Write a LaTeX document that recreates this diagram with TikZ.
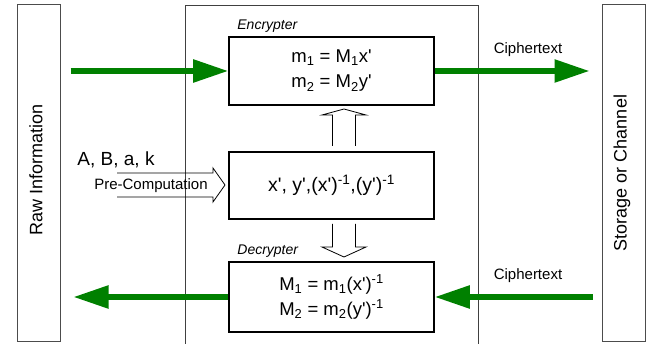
\documentclass[tikz,border=0pt]{standalone}
\usepackage{fontspec}
\setmainfont{Liberation Sans}
\usepackage{xcolor}
\usetikzlibrary{arrows.meta,positioning}

\definecolor{flowgreen}{RGB}{0,128,0}
\newcommand{\prm}{\textquotesingle}

\begin{document}
\begin{tikzpicture}[
    x=1pt, y=-1pt,
    sidebox/.style={rectangle, draw=black!70, line width=1pt, minimum width=43pt, minimum height=337pt, inner sep=0pt},
    calcbox/.style={rectangle, draw, line width=1.6pt, minimum width=205pt, align=center, font=\fontsize{18.5}{25}\selectfont},
    tagtext/.style={font=\fontsize{14}{16}\selectfont\itshape, inner sep=0pt},
    arrowtext/.style={font=\fontsize{15}{16}\selectfont, inner sep=0pt},
    flow/.style={draw=flowgreen, line width=5.5pt, -{Triangle[length=35pt,width=22pt]}, flowgreen},
    hollow/.style={draw, line width=0.8pt, line join=miter}
]
\useasboundingbox (0,0) rectangle (653,344);

% frame of the processing unit, open at the bottom
\draw[black!75, line width=0.8pt] (185,344) -- (185,5) -- (478,5) -- (478,344);

\node[sidebox] (raw) at (38.5,173.5) {};
\node[rotate=90, font=\fontsize{18}{20}\selectfont] at (36,170) {Raw Information};
\node[sidebox] (store) at (623.5,173.5) {};
\node[rotate=90, font=\fontsize{18}{20}\selectfont] at (622,173) {Storage or Channel};

\node[calcbox, minimum height=68pt] (enc) at (331.5,71) {m\textsubscript{1} = M\textsubscript{1}x\prm\\m\textsubscript{2} = M\textsubscript{2}y\prm};
\node[calcbox, minimum height=67pt, font=\fontsize{19.5}{25}\selectfont] (pre) at (331.5,185.5) {x\prm, y\prm,(x\prm)\textsuperscript{-1},(y\prm)\textsuperscript{-1}};
\node[calcbox, minimum height=70pt] (dec) at (331.5,297) {M\textsubscript{1} = m\textsubscript{1}(x\prm)\textsuperscript{-1}\\M\textsubscript{2} = m\textsubscript{2}(y\prm)\textsuperscript{-1}};

\node[tagtext, anchor=south west] (enctag) at ([xshift=9pt,yshift=4pt]enc.north west) {Encrypter};
\node[tagtext, anchor=south west] (dectag) at ([xshift=9pt,yshift=4pt]dec.north west) {Decrypter};

% green data flow
\draw[flow, shorten <=10pt] (raw.east |- enc.west) -- (enc.west);
\draw[flow, shorten >=12pt] (enc.east) -- (store.west |- enc.east);
\draw[flow, shorten <=9pt] (store.west |- dec.east) -- (dec.east);
\draw[flow, shorten >=13pt] (dec.west) -- (raw.east |- dec.west);

\node[arrowtext] (ctup) at (528,50) {Ciphertext};
\node[arrowtext] (ctdown) at (528,276) {Ciphertext};

% hollow arrows
\draw[hollow] (332.5,146) -- (332.5,115) -- (322,115) -- (344,109) -- (366,115) -- (355.5,115) -- (355.5,146);
\draw[hollow] (332.5,224) -- (332.5,247) -- (322,247) -- (344,257) -- (366,247) -- (355.5,247) -- (355.5,224);
\draw[hollow] (117,173) -- (213,173) -- (213,168) -- (225,185) -- (213,202) -- (213,197) -- (117,197);

\node[font=\fontsize{19}{20}\selectfont, inner sep=0pt] (keys) at (116,160) {A, B, a, k};
\node[arrowtext] (precomp) at (151,186) {Pre-Computation};
\end{tikzpicture}
\end{document}
